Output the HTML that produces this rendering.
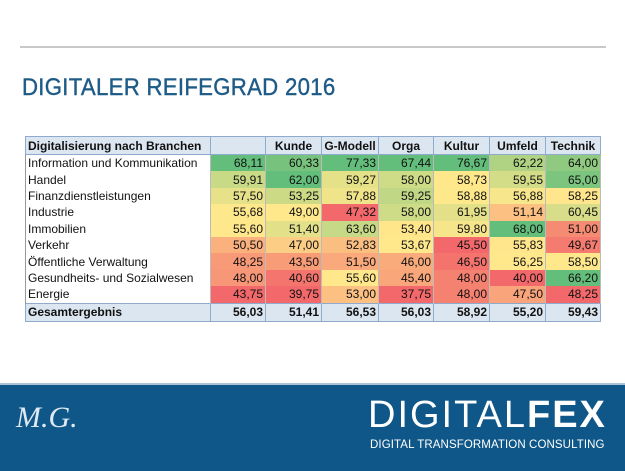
<!DOCTYPE html>
<html><head><meta charset="utf-8"><style>
html,body{margin:0;padding:0;width:625px;height:469px;overflow:hidden;background:#fff;font-family:"Liberation Sans",sans-serif}
.topline{position:absolute;left:20px;top:46px;width:586px;height:2px;background:#c8c8c8}
h1{position:absolute;left:22px;top:74px;margin:0;font-size:24px;font-weight:normal;color:#1f5b87;letter-spacing:0.3px;transform:scaleX(0.925);transform-origin:0 0;white-space:nowrap;-webkit-text-stroke:0.4px #1f5b87}
table{position:absolute;left:25px;top:136px;width:575px;border-collapse:collapse;table-layout:fixed;font-size:12px;color:#111}
td{height:16.4px;padding:0 2px;border-left:1px solid #bbb;border-right:1px solid #bbb;white-space:nowrap;text-align:right;overflow:hidden}
td:first-child{text-align:left;border-left:1px solid #999}
tr.h td{background:#dce6f1;font-weight:bold;text-align:center;border:1px solid #8eaacc;height:17px}
tr.h td:first-child{text-align:left}
tr.t td{background:#dce6f1;font-weight:bold;border:1px solid #8eaacc;height:17px}
.foot{position:absolute;left:0;top:383px;width:625px;height:86px;background:#0f5788;border-top:2px solid #a9c3d8}
.sig{position:absolute;left:16px;top:16px;color:#dfe9f2;font-family:"Liberation Serif",serif;font-style:italic;font-size:30px;font-weight:100}
.logo{position:absolute;left:368px;top:9px;color:#fff;font-size:38px;letter-spacing:2px;white-space:nowrap}
.logo b{font-weight:900}
.sub{position:absolute;left:370px;top:54px;color:#fff;font-size:11.5px;white-space:nowrap;letter-spacing:0.1px}
</style></head><body>
<div class="topline"></div>
<h1>DIGITALER REIFEGRAD 2016</h1>
<table id="t">
<colgroup><col style="width:185px"><col style="width:55px"><col style="width:56px"><col style="width:57px"><col style="width:55px"><col style="width:56px"><col style="width:56px"><col style="width:55px"></colgroup>
<tr class="h"><td>Digitalisierung nach Branchen</td><td></td><td>Kunde</td><td>G-Modell</td><td>Orga</td><td>Kultur</td><td>Umfeld</td><td>Technik</td></tr>
</table>
<div class="foot">
<div class="sig">M.G.</div>
<div class="logo">DIGITAL<b>FEX</b></div>
<div class="sub">DIGITAL TRANSFORMATION CONSULTING</div>
</div>
<script>
var d=[["Information und Kommunikation",68.11,60.33,77.33,67.44,76.67,62.22,64.00],
["Handel",59.91,62.00,59.27,58.00,58.73,59.55,65.00],
["Finanzdienstleistungen",57.50,53.25,57.88,59.25,58.88,56.88,58.25],
["Industrie",55.68,49.00,47.32,58.00,61.95,51.14,60.45],
["Immobilien",55.60,51.40,63.60,53.40,59.80,68.00,51.00],
["Verkehr",50.50,47.00,52.83,53.67,45.50,55.83,49.67],
["Öffentliche  Verwaltung",48.25,43.50,51.50,46.00,46.50,56.25,58.50],
["Gesundheits- und Sozialwesen",48.00,40.60,55.60,45.40,48.00,40.00,66.20],
["Energie",43.75,39.75,53.00,37.75,48.00,47.50,48.25]];
var tot=["Gesamtergebnis",56.03,51.41,56.53,56.03,58.92,55.20,59.43];
var R=[243,105,107],Y=[255,232,140],G=[99,190,123];
function mix(a,b,t){return "rgb("+a.map(function(v,i){return Math.round(v+(b[i]-v)*t)}).join(",")+")"}
function f(v){return v.toFixed(2).replace(".",",")}
var t=document.getElementById("t"),h="";
var st=[];for(var c=1;c<8;c++){var col=d.map(function(r){return r[c]}).sort(function(a,b){return a-b});st[c]=[col[0],col[4],col[8]]}
d.forEach(function(r){h+="<tr><td>"+r[0]+"</td>";for(var c=1;c<8;c++){var s=st[c],v=r[c],bg;
if(v<=s[1])bg=mix(R,Y,(v-s[0])/(s[1]-s[0]||1));else bg=mix(Y,G,(v-s[1])/(s[2]-s[1]||1));
h+='<td style="background:'+bg+'">'+f(v)+"</td>"}h+="</tr>"});
h+='<tr class="t"><td>'+tot[0]+"</td>";for(var c=1;c<8;c++)h+="<td>"+f(tot[c])+"</td>";h+="</tr>";
t.insertAdjacentHTML("beforeend",h);
</script>
</body></html>
